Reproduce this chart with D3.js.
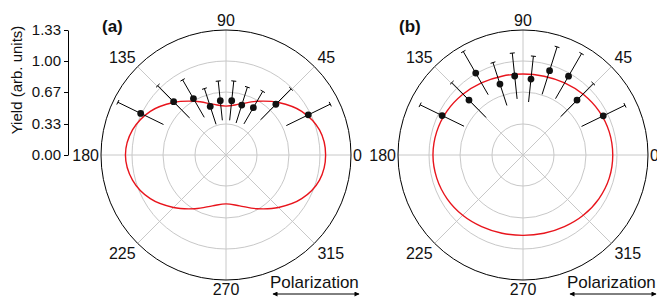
<!DOCTYPE html>
<meta charset="utf-8">
<script src="https://d3js.org/d3.v7.min.js"></script>
<style>
body { margin: 0; background: #fff; }
svg { display: block; font-family: "Liberation Sans", Arial, sans-serif; }
.grid { fill: none; stroke: #c8c8c8; stroke-width: 1; }
.frame { fill: none; stroke: #000; stroke-width: 1; }
.fit { fill: none; stroke: #e8141c; stroke-width: 1.4; }
.err { stroke: #000; stroke-width: 1; }
.lbl { font-size: 15px; fill: #111; }
.alab { font-size: 16px; fill: #111; }
</style>
<body>
</body>
<script>

// polarization angles of the measured points (deg)
var angles = [154, 134.5, 120, 108, 96, 84, 72.5, 60, 45.5, 26];

// panel (a)
var yieldA = [1.01, 0.795, 0.693, 0.543, 0.581, 0.581, 0.557, 0.582, 0.757, 0.974];
var errA   = [0.27, 0.24, 0.23, 0.20, 0.21, 0.21, 0.20, 0.20, 0.23, 0.26];
// panel (b)
var yieldB = [0.958, 0.820, 1.006, 0.794, 0.845, 0.812, 0.941, 0.969, 0.820, 0.950];
var errB   = [0.26, 0.26, 0.265, 0.24, 0.245, 0.245, 0.265, 0.277, 0.246, 0.257];

// fitted curves, every 15 deg from 0 to 345
var fitAngles = [0,15,30,45,60,75,90,105,120,135,150,165,180,195,210,225,240,255,270,285,300,315,330,345];
var fitA = [1.06,1.03,0.93,0.79,0.66,0.56,0.52,0.56,0.66,0.79,0.93,1.03,1.07,1.03,0.93,0.79,0.66,0.56,0.52,0.56,0.66,0.79,0.93,1.03];
var fitB = [0.955,0.950,0.934,0.910,0.886,0.868,0.862,0.868,0.886,0.910,0.934,0.951,0.958,0.950,0.932,0.907,0.880,0.862,0.855,0.862,0.880,0.907,0.932,0.950];

var ringTicks = [0, 0.33, 0.67, 1.00, 1.33];
var spokeAngles = [0, 45, 90, 135, 180, 225, 270, 315];

var W = 657, H = 297;
var R = 125, cy = 155;

var svg = d3.select('body').append('svg')
  .attr('width', W)
  .attr('height', H);

var rScale = d3.scaleLinear().domain([0, 1.33]).range([0, R]);

// math angle (ccw from east) -> d3 radial angle
function toRad(deg) { return Math.PI / 2 - deg * Math.PI / 180; }
function px(deg, r) { return  rScale(r) * Math.cos(deg * Math.PI / 180); }
function py(deg, r) { return -rScale(r) * Math.sin(deg * Math.PI / 180); }

var defs = svg.append('defs');
defs.append('marker')
  .attr('id', 'arr')
  .attr('viewBox', '0 0 10 10')
  .attr('refX', 9).attr('refY', 5)
  .attr('markerWidth', 6).attr('markerHeight', 5)
  .attr('markerUnits', 'userSpaceOnUse')
  .attr('orient', 'auto-start-reverse')
  .append('path')
  .attr('d', 'M0,0 L10,5 L0,10 z')
  .attr('fill', '#000');

// y axis (radial scale)
var yScale = d3.scaleLinear().domain([0, 1.33]).range([cy, cy - R]);
var yAxis = d3.axisLeft(yScale)
  .tickValues(ringTicks)
  .tickFormat(d3.format('.2f'))
  .tickSize(4)
  .tickSizeOuter(0);

var ya = svg.append('g')
  .attr('transform', 'translate(68,0)')
  .call(yAxis)
  .attr('font-size', 15)
  .attr('font-family', '"Liberation Sans", Arial, sans-serif');
ya.selectAll('text').attr('fill', '#111');
ya.select('.domain').attr('stroke', '#000');

svg.append('text')
  .attr('class', 'lbl')
  .attr('transform', 'translate(22,80) rotate(-90)')
  .attr('text-anchor', 'middle')
  .text('Yield (arb. units)');

function panel(cx, label, vals, errs, fit) {
  var g = svg.append('g').attr('transform', 'translate(' + cx + ',' + cy + ')');

  g.selectAll('.ring')
    .data(ringTicks.slice(1, 4))
    .enter().append('circle')
    .attr('class', 'grid')
    .attr('r', function(d) { return rScale(d); });

  g.selectAll('.spoke')
    .data(spokeAngles)
    .enter().append('line')
    .attr('class', 'grid')
    .attr('x1', 0).attr('y1', 0)
    .attr('x2', function(d) { return px(d, 1.33); })
    .attr('y2', function(d) { return py(d, 1.33); });

  g.append('circle').attr('class', 'frame').attr('r', rScale(1.33));

  // angle labels
  var lab = [
    {a: 0,   dx: 2,  dy: 6,    anchor: 'start'},
    {a: 45,  dx: 3,  dy: -4,   anchor: 'start'},
    {a: 90,  dx: 0,  dy: -4.5, anchor: 'middle'},
    {a: 135, dx: -2, dy: -4,   anchor: 'end'},
    {a: 180, dx: -2, dy: 6,    anchor: 'end'},
    {a: 225, dx: -2, dy: 16,   anchor: 'end'},
    {a: 270, dx: 0,  dy: 15,   anchor: 'middle'},
    {a: 315, dx: 3,  dy: 16,   anchor: 'start'}
  ];
  g.selectAll('.alab')
    .data(lab)
    .enter().append('text')
    .attr('class', 'alab')
    .attr('text-anchor', function(d) { return d.anchor; })
    .attr('x', function(d) { return px(d.a, 1.33) + d.dx; })
    .attr('y', function(d) { return py(d.a, 1.33) + d.dy; })
    .text(function(d) { return d.a; });

  // fit curve
  var line = d3.lineRadial()
    .angle(function(d, i) { return toRad(fitAngles[i]); })
    .radius(function(d) { return rScale(d); })
    .curve(d3.curveCardinalClosed);
  g.append('path').attr('class', 'fit').attr('d', line(fit));

  // error bars + points
  var pts = angles.map(function(a, i) { return {a: a, v: vals[i], e: errs[i]}; });
  var eb = g.selectAll('.eb').data(pts).enter().append('g');
  eb.append('line')
    .attr('class', 'err')
    .attr('x1', function(d) { return px(d.a, d.v - d.e); })
    .attr('y1', function(d) { return py(d.a, d.v - d.e); })
    .attr('x2', function(d) { return px(d.a, d.v + d.e); })
    .attr('y2', function(d) { return py(d.a, d.v + d.e); });
  var cap = 2.5;
  eb.append('line')
    .attr('class', 'err')
    .attr('x1', function(d) { var t = d.a * Math.PI / 180; return px(d.a, d.v + d.e) - cap * Math.sin(t); })
    .attr('y1', function(d) { var t = d.a * Math.PI / 180; return py(d.a, d.v + d.e) - cap * Math.cos(t); })
    .attr('x2', function(d) { var t = d.a * Math.PI / 180; return px(d.a, d.v + d.e) + cap * Math.sin(t); })
    .attr('y2', function(d) { var t = d.a * Math.PI / 180; return py(d.a, d.v + d.e) + cap * Math.cos(t); });
  eb.append('circle')
    .attr('r', 3.4)
    .attr('fill', '#111')
    .attr('cx', function(d) { return px(d.a, d.v); })
    .attr('cy', function(d) { return py(d.a, d.v); });

  // panel label
  svg.append('text')
    .attr('x', cx - 124).attr('y', 32)
    .attr('font-size', 17).attr('font-weight', 'bold').attr('fill', '#111')
    .text(label);

  // polarization arrow
  svg.append('text')
    .attr('x', cx + 44).attr('y', 288)
    .attr('font-size', 17).attr('fill', '#111')
    .text('Polarization');
  svg.append('line')
    .attr('x1', cx + 47).attr('x2', cx + 133)
    .attr('y1', 294).attr('y2', 294)
    .attr('stroke', '#000').attr('stroke-width', 1)
    .attr('marker-start', 'url(#arr)')
    .attr('marker-end', 'url(#arr)');
}

panel(226, '(a)', yieldA, errA, fitA);
panel(523, '(b)', yieldB, errB, fitB);

</script>
